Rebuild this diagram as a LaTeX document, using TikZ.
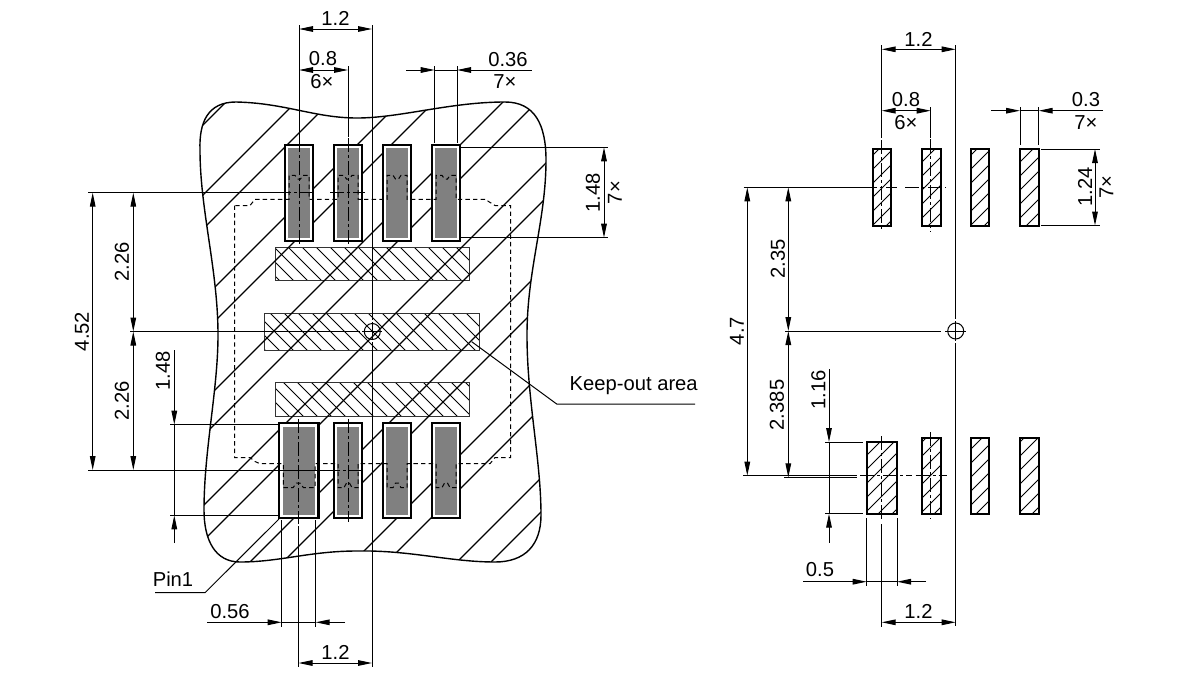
\documentclass[tikz,border=0pt]{standalone}
\usepackage{fontspec}
\setmainfont{Liberation Sans}
\usetikzlibrary{arrows.meta}
\definecolor{padgray}{gray}{0.5}
\newcommand{\blobpath}{(200,150) .. controls (199,122) and (208,102) .. (236,102) .. controls (285,103) and (315,118) .. (357,118) .. controls (400,118) and (450,102) .. (505,102) .. controls (535,102) and (546,125) .. (546,160) .. controls (546,220) and (527,270) .. (527,335) .. controls (527,400) and (541,460) .. (541,515) .. controls (541,545) and (525,562) .. (495,562) .. controls (450,562) and (410,550) .. (357,551) .. controls (310,551) and (280,562) .. (240,562) .. controls (215,562) and (204,540) .. (204,510) .. controls (204,450) and (218,390) .. (218,335) .. controls (218,270) and (200,210) .. (200,150) -- cycle}
\tikzset{
  thinline/.style={line width=0.5pt},
  dimline/.style={thinline, {Triangle[length=7pt,width=2.8pt]}-{Triangle[length=7pt,width=2.8pt]}},
  dimarrow/.style={thinline, -{Triangle[length=7pt,width=2.8pt]}},
  centerline/.style={line width=0.4pt, dash pattern=on 7pt off 1.5pt on 1.5pt off 1.5pt},
  keepdash/.style={line width=0.5pt, dash pattern=on 2.2pt off 1.6pt},
  hatchthin/.style={line width=0.5pt},
  hatchwide/.style={line width=0.65pt},
  padbox/.style={draw, fill=white, line width=1.4pt},
  padcore/.style={fill=padgray},
  landbox/.style={draw, line width=1pt},
  dimtext/.style={inner sep=0pt, font=\fontsize{10.1pt}{12pt}\selectfont},
  dimvert/.style={dimtext, rotate=90},
}
\begin{document}
\begin{tikzpicture}[x=0.5pt, y=-0.5pt]
  \useasboundingbox (0,0) rectangle (1200,675);

  % left panel: keep-out bars
  \draw[line width=0.7pt] \blobpath;
  \foreach \xa/\ya/\xb/\yb in {275.5/247.5/469.5/280.5, 264.5/313.5/479.5/350, 275.5/382.5/469.5/416} {
    \begin{scope}
      \clip (\xa,\ya) rectangle (\xb,\yb);
      \foreach \d in {-155,-141,...,240}
        \draw[hatchthin] (\d+230,230) -- (\d+430,430);
    \end{scope}
    \draw[thinline, black!80] (\xa,\ya) rectangle (\xb,\yb);
  }

  % left panel: wide hatch
  \begin{scope}
    \clip \blobpath;
    \foreach \s in {328,398,432,502,536,605,639,709,744,812,845,915,949,1019,1053}
      \draw[hatchwide] (\s-90,90) -- (\s-570,570);
  \end{scope}

  % left panel: pads
  \foreach \c in {299,348,397,446} {
    \draw[padbox] (\c-14,145) rectangle (\c+14,241);
    \fill[padcore] (\c-11,148) rectangle (\c+11,238);
  }
  \draw[padbox] (279,423) rectangle (318.5,518);
  \fill[padcore] (282.5,426.5) rectangle (315,514.5);
  \foreach \c in {348,397,446} {
    \draw[padbox] (\c-14,423) rectangle (\c+14,518);
    \fill[padcore] (\c-11,426.5) rectangle (\c+11,514.5);
  }

  % left panel: dashed outline
  \draw[keepdash] (234.5,205.5) -- (234.5,457.5) -- (250,457.5) -- (255,461.5) -- (260,463.7) -- (283.3,463.7)
    -- (283.3,487.7) -- (293,487.7) -- (296.5,483) -- (300,483) -- (303.5,487.7) -- (315,487.7) -- (315,463.7) -- (338,463.7)
    -- (338,487.7) -- (344,487.7) -- (346.5,483) -- (349.5,483) -- (352,487.7) -- (358,487.7) -- (358,463.7) -- (387,463.7)
    -- (387,487.7) -- (393,487.7) -- (395.5,483) -- (398.5,483) -- (401,487.7) -- (407,487.7) -- (407,463.7) -- (436,463.7)
    -- (436,487.7) -- (442,487.7) -- (444.5,483) -- (447.5,483) -- (450,487.7) -- (456,487.7) -- (456,463.7) -- (490,463.7)
    -- (495,457.5) -- (510.5,457.5) -- (510.5,205.5) -- (495,205.5) -- (485,199.3);
  \draw[keepdash] (485,199.3) -- (456,199.3) -- (456,175.3) -- (450,175.3) -- (447.5,179) -- (444.5,179) -- (442,175.3) -- (436,175.3) -- (436,199.3)
    -- (407,199.3) -- (407,175.3) -- (401,175.3) -- (398.5,179) -- (395.5,179) -- (393,175.3) -- (387,175.3) -- (387,199.3)
    -- (358,199.3) -- (358,175.3) -- (352,175.3) -- (349.5,179) -- (346.5,179) -- (344,175.3) -- (338,175.3) -- (338,199.3)
    -- (309,199.3) -- (309,175.3) -- (303,175.3) -- (300.5,179) -- (297.5,179) -- (295,175.3) -- (289,175.3) -- (289,199.3)
    -- (255,199.3) -- (250,205.5) -- (234.5,205.5);

  % left panel: center lines
  \draw[thinline] (372,25) -- (372,320) (372,342) -- (372,667);
  \draw[thinline] (372,322) -- (372,340) (362,331.5) -- (382,331.5);
  \draw[thinline] (372.3,331.5) circle (8);
  \draw[centerline] (299,138) -- (299,246);
  \draw[centerline] (348,138) -- (348,246);
  \draw[centerline] (277,192.7) -- (316,192.7) (330,192.7) -- (365,192.7);
  \draw[centerline] (326,470) -- (365,470);
  \draw[centerline] (298.5,419) -- (298.5,524);
  \draw[centerline] (348,419) -- (348,522);

  % left panel: top dimensions
  \draw[thinline] (299,25) -- (299,138);
  \draw[thinline] (348,66) -- (348,137);
  \draw[thinline] (434.7,66) -- (434.7,143) (457,66) -- (457,143);
  \draw[dimline] (299,29) -- (372,29);
  \node[dimtext] (topPitch) at (335.5,18) {1.2};
  \draw[dimline] (299,70) -- (348,70);
  \node[dimtext] (padPitch) at (323,59) {0.8};
  \node[dimtext] (padPitchN) at (322,82) {6×};
  \draw[dimarrow] (406,70) -- (434.7,70);
  \draw[thinline] (434.7,70) -- (457,70);
  \draw[dimarrow] (531.5,70) -- (457,70);
  \node[dimtext] (padWidth) at (508,60) {0.36};
  \node[dimtext] (padWidthN) at (505,82) {7×};

  % left panel: side dimensions
  \draw[thinline] (460,147.3) -- (608,147.3) (460,237.7) -- (608,237.7);
  \draw[dimline] (604,147.3) -- (604,237.7);
  \node[dimvert] (padLen) at (593,193) {1.48};
  \node[dimvert] (padLenN) at (615,192.7) {7×};
  \draw[thinline] (88,192.7) -- (277,192.7);
  \draw[thinline] (88,470) -- (326,470);
  \draw[thinline] (130,331.5) -- (360,331.5);
  \draw[dimline] (92.7,192.7) -- (92.7,470);
  \node[dimvert] (spanA) at (82,331.5) {4.52};
  \draw[dimline] (133.3,192.7) -- (133.3,331.5);
  \draw[dimline] (133.3,331.5) -- (133.3,470);
  \node[dimvert] (upperA) at (122,261.7) {2.26};
  \node[dimvert] (lowerA) at (122,400.7) {2.26};
  \draw[thinline] (170,424.7) -- (278,424.7) (170,515.3) -- (278,515.3);
  \draw[dimarrow] (174.3,350) -- (174.3,424.7);
  \draw[thinline] (174.3,424.7) -- (174.3,515.3);
  \draw[dimarrow] (174.3,543) -- (174.3,515.3);
  \node[dimvert] (pinLenA) at (163,371) {1.48};

  % left panel: bottom dimensions
  \draw[thinline] (281.7,520) -- (281.7,627) (315.7,520) -- (315.7,627);
  \draw[thinline] (298.5,526) -- (298.5,667);
  \draw[dimarrow] (207,622.3) -- (281.7,622.3);
  \draw[thinline] (281.7,622.3) -- (315.7,622.3);
  \draw[dimarrow] (345,622.3) -- (315.7,622.3);
  \node[dimtext] (pinWidthA) at (230,612) {0.56};
  \draw[dimline] (298.5,663) -- (372,663);
  \node[dimtext] (bottomPitchA) at (335.5,652) {1.2};

  % left panel: leaders
  \draw[thinline] (155,592.7) -- (205,592.7) -- (279,519);
  \node[dimtext] (pinLabel) at (173,579) {Pin1};
  \draw[thinline] (471.7,341.7) -- (556.7,404) -- (695,404);
  \node[dimtext, anchor=west] (keepLabel) at (569.3,386) {Keep-out area};

  % right panel: lands
  \foreach \xa/\ya/\xb/\yb in {872.5/149/891/225.5, 922/149/940.5/225.5, 970.5/149/989/225.5, 1020/149/1038.5/225.5,
      866.5/442/897/514, 922/437.5/940.5/514, 970.5/437.5/989/514, 1020/437.5/1038.5/514} {
    \begin{scope}
      \clip (\xa,\ya) rectangle (\xb,\yb);
      \foreach \s in {1000,1014,...,1600}
        \draw[hatchthin] (\s-130,130) -- (\s-530,530);
    \end{scope}
    \draw[landbox] (\xa,\ya) rectangle (\xb,\yb);
  }
  \draw[centerline] (881.7,140) -- (881.7,232);
  \draw[centerline] (930.7,139) -- (930.7,232);
  \draw[centerline] (863,187.3) -- (897,187.3) (905,187.3) -- (946,187.3);
  \draw[centerline] (860,475.7) -- (912,475.7) (915.7,475.7) -- (946.7,475.7);
  \draw[centerline] (881.7,436) -- (881.7,520);
  \draw[centerline] (930.7,432) -- (930.7,519);

  % right panel: center mark
  \draw[thinline] (955.7,45) -- (955.7,319) (955.7,343) -- (955.7,626);
  \draw[thinline] (955.7,321) -- (955.7,341) (945,331) -- (965.7,331);
  \draw[thinline] (955.7,331) circle (8);
  \draw[thinline] (785,331) -- (940.7,331);

  % right panel: top dimensions
  \draw[thinline] (881.7,45) -- (881.7,138);
  \draw[thinline] (930.7,107) -- (930.7,138);
  \draw[thinline] (1020,107) -- (1020,145) (1038.7,107) -- (1038.7,145);
  \draw[dimline] (881.7,49.3) -- (955.7,49.3);
  \node[dimtext] (topPitchB) at (918.5,39) {1.2};
  \draw[dimline] (881.7,110.7) -- (930.7,110.7);
  \node[dimtext] (landPitch) at (906,100) {0.8};
  \node[dimtext] (landPitchN) at (906,123) {6×};
  \draw[dimarrow] (991,110.7) -- (1020,110.7);
  \draw[thinline] (1020,110.7) -- (1038.7,110.7);
  \draw[dimarrow] (1103,110.7) -- (1038.7,110.7);
  \node[dimtext] (landWidth) at (1086,100) {0.3};
  \node[dimtext] (landWidthN) at (1086,123) {7×};

  % right panel: side dimensions
  \draw[thinline] (1041,149) -- (1100,149) (1041,225.5) -- (1100,225.5);
  \draw[dimline] (1095,149) -- (1095,225.5);
  \node[dimvert] (landLen) at (1085,187) {1.24};
  \node[dimvert] (landLenN) at (1106.5,187) {7×};
  \draw[thinline] (743.5,187.3) -- (863,187.3);
  \draw[thinline] (743,475.7) -- (856.7,475.7) (784,477.3) -- (856.7,477.3);
  \draw[dimline] (747.3,187.3) -- (747.3,475.7);
  \node[dimvert] (spanB) at (737,331) {4.7};
  \draw[dimline] (788.3,187.3) -- (788.3,331);
  \draw[dimline] (788.3,331) -- (788.3,477.3);
  \node[dimvert] (upperB) at (778,259) {2.35};
  \node[dimvert] (lowerB) at (777,405) {2.385};
  \draw[thinline] (825,442) -- (863,442) (825,513.7) -- (863,513.7);
  \draw[dimarrow] (829,369) -- (829,442);
  \draw[thinline] (829,442) -- (829,513.7);
  \draw[dimarrow] (829,542.7) -- (829,513.7);
  \node[dimvert] (pinLenB) at (818.3,390) {1.16};

  % right panel: bottom dimensions
  \draw[thinline] (866.7,518) -- (866.7,586) (897,518) -- (897,586);
  \draw[thinline] (881.7,524) -- (881.7,627);
  \draw[dimarrow] (803,581.7) -- (866.7,581.7);
  \draw[thinline] (866.7,581.7) -- (897,581.7);
  \draw[dimarrow] (926,581.7) -- (897,581.7);
  \node[dimtext] (pinWidthB) at (820,570) {0.5};
  \draw[dimline] (881.7,622.3) -- (955.7,622.3);
  \node[dimtext] (bottomPitchB) at (918.5,611) {1.2};
\end{tikzpicture}
\end{document}
